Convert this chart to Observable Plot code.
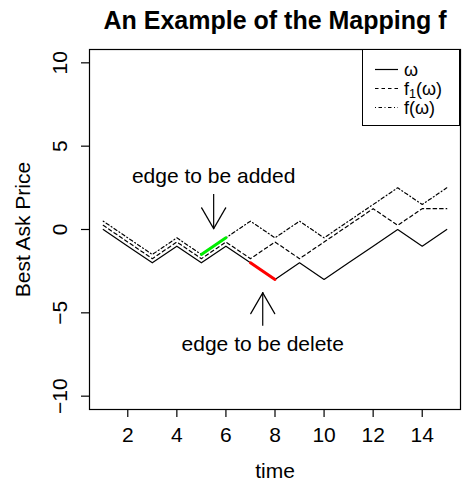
<!DOCTYPE html>
<html>
<head>
<meta charset="utf-8">
<script src="https://cdn.jsdelivr.net/npm/d3@7"></script>
<script src="https://cdn.jsdelivr.net/npm/@observablehq/plot@0.6"></script>
<style>
  body { margin: 0; background: #fff; }
  #wrap { position: relative; width: 463px; height: 487px; font-family: "Liberation Sans", Arial, Helvetica, sans-serif; }
  #wrap > svg { position: absolute; left: 0; top: 0; }
  #legend { position: absolute; left: 362px; top: 49px; width: 98px; height: 77px; box-sizing: border-box; border: 1.2px solid #000; background: #fff; }
  #legend svg { display: block; }
</style>
</head>
<body>
<div id="wrap"></div>
<script>
// ---- data ----
const time  = [1, 2, 3, 4, 5, 6, 7, 8, 9, 10, 11, 12, 13, 14, 15];
const omega = [0, -1, -2, -1, -2, -1, -2, -3, -2, -3, -2, -1, 0, -1, 0];
const f1    = [0.25, -0.75, -1.75, -0.75, -1.75, -0.75, -1.75, -0.75, -1.75, -0.75, 0.25, 1.25, 0.25, 1.25, 1.25];
const fmap  = [0.5, -0.5, -1.5, -0.5, -1.5, -0.5, 0.5, -0.5, 0.5, -0.5, 0.5, 1.5, 2.5, 1.5, 2.5];

const addedEdgeTime    = [5, 6];
const addedEdgeValue   = [-1.5, -0.5];
const deletedEdgeTime  = [7, 8];
const deletedEdgeValue = [-2, -3];

const annLabel  = ["edge to be added", "edge to be delete"];
const annX      = [5.5, 7.5];
const annTextY  = [3.2, -6.9];
const arrowFrom = [2.1, -5.8];
const arrowTo   = [0.05, -3.8];

const xTicks = [2, 4, 6, 8, 10, 12, 14];
const yTicks = [-10, -5, 0, 5, 10];

const legendLabels = ["ω", "f_1(ω)", "f(ω)"];
const legendDash   = ["none", "3.5,3", "1,2.5,3.5,2.5"];

const titleText = "An Example of the Mapping f";
const xLabel = "time";
const yLabel = "Best Ask Price";

// ---- build ----
const rows = time.map((t, i) => ({t, omega: omega[i], f1: f1[i], f: fmap[i]}));
const added = addedEdgeTime.map((t, i) => ({t, v: addedEdgeValue[i]}));
const deleted = deletedEdgeTime.map((t, i) => ({t, v: deletedEdgeValue[i]}));
const arrows = annX.map((x, i) => ({x, from: arrowFrom[i], to: arrowTo[i], label: annLabel[i], ty: annTextY[i]}));
const wings = arrows.flatMap(a => {
  const base = a.to < a.from ? 0 : 180;
  return [{x: a.x, y: a.to, r: base - 30}, {x: a.x, y: a.to, r: base + 30}];
});
const lineShape = {draw(ctx, l) { ctx.moveTo(0, 0); ctx.lineTo(0, -l); }};

const font = '"Liberation Sans", Arial, Helvetica, sans-serif';
const lw = 1.2;
const fs = 21;

const chart = Plot.plot({
  width: 463,
  height: 487,
  marginLeft: 89,
  marginRight: 3,
  marginTop: 49,
  marginBottom: 78,
  x: {domain: [0.44, 15.56]},
  y: {domain: [-10.8, 10.8]},
  style: {fontFamily: font, fontSize: fs + "px", background: "#fff", color: "#000", overflow: "visible"},
  marks: [
    Plot.frame({stroke: "#000", strokeWidth: 1.2}),
    Plot.axisX({ticks: xTicks, tickSize: 8, tickPadding: 10, label: null, fontSize: fs, strokeWidth: 1.2}),
    Plot.axisY({ticks: yTicks, tickSize: 8, tickRotate: -90, textAnchor: "middle", lineAnchor: "middle", tickPadding: 21, label: null, fontSize: fs, strokeWidth: 1.2}),
    Plot.line(rows, {x: "t", y: "omega", stroke: "#000", strokeWidth: lw}),
    Plot.line(rows, {x: "t", y: "f1", stroke: "#000", strokeWidth: lw, strokeDasharray: legendDash[1]}),
    Plot.line(rows, {x: "t", y: "f", stroke: "#000", strokeWidth: lw, strokeDasharray: legendDash[2]}),
    Plot.line(added, {x: "t", y: "v", stroke: "#00ee00", strokeWidth: 3}),
    Plot.line(deleted, {x: "t", y: "v", stroke: "#ff0000", strokeWidth: 3}),
    Plot.ruleX(arrows, {x: "x", y1: "from", y2: "to", stroke: "#000", strokeWidth: lw}),
    Plot.vector(wings, {x: "x", y: "y", rotate: "r", length: 24, anchor: "start", shape: lineShape, stroke: "#000", strokeWidth: lw}),
    Plot.text(arrows, {x: "x", y: "ty", text: "label", fontSize: fs}),
    Plot.text([titleText], {text: d => d, frameAnchor: "top", lineAnchor: "middle", textAnchor: "middle", dy: -28.5, fontSize: 25, fontWeight: "bold"}),
    Plot.text([xLabel], {text: d => d, frameAnchor: "bottom", lineAnchor: "middle", textAnchor: "middle", dy: 62, fontSize: fs}),
    Plot.text([yLabel], {text: d => d, frameAnchor: "left", lineAnchor: "middle", textAnchor: "middle", dx: -66, rotate: -90, fontSize: fs})
  ]
});

const wrap = document.getElementById("wrap");
wrap.appendChild(chart);

// ---- legend ----
const leg = document.createElement("div");
leg.id = "legend";
const ns = "http://www.w3.org/2000/svg";
const lsvg = document.createElementNS(ns, "svg");
lsvg.setAttribute("width", 96);
lsvg.setAttribute("height", 75);
legendLabels.forEach((lab, i) => {
  const y = 19.5 + i * 19;
  const ln = document.createElementNS(ns, "line");
  ln.setAttribute("x1", 12); ln.setAttribute("x2", 35);
  ln.setAttribute("y1", y); ln.setAttribute("y2", y);
  ln.setAttribute("stroke", "#000"); ln.setAttribute("stroke-width", lw);
  if (legendDash[i] !== "none") ln.setAttribute("stroke-dasharray", legendDash[i]);
  lsvg.appendChild(ln);
  const tx = document.createElementNS(ns, "text");
  tx.setAttribute("x", 41); tx.setAttribute("y", y + 6);
  tx.setAttribute("font-size", 18);
  tx.setAttribute("font-family", font);
  const parts = lab.split("_");
  if (parts.length === 1) {
    tx.textContent = lab;
  } else {
    const a = document.createElementNS(ns, "tspan"); a.textContent = parts[0]; tx.appendChild(a);
    const s = document.createElementNS(ns, "tspan"); s.textContent = parts[1][0];
    s.setAttribute("font-size", 12.5); s.setAttribute("dy", 3); tx.appendChild(s);
    const b = document.createElementNS(ns, "tspan"); b.textContent = parts[1].slice(1);
    b.setAttribute("dy", -3); tx.appendChild(b);
  }
  lsvg.appendChild(tx);
});
leg.appendChild(lsvg);
wrap.appendChild(leg);
</script>
</body>
</html>
